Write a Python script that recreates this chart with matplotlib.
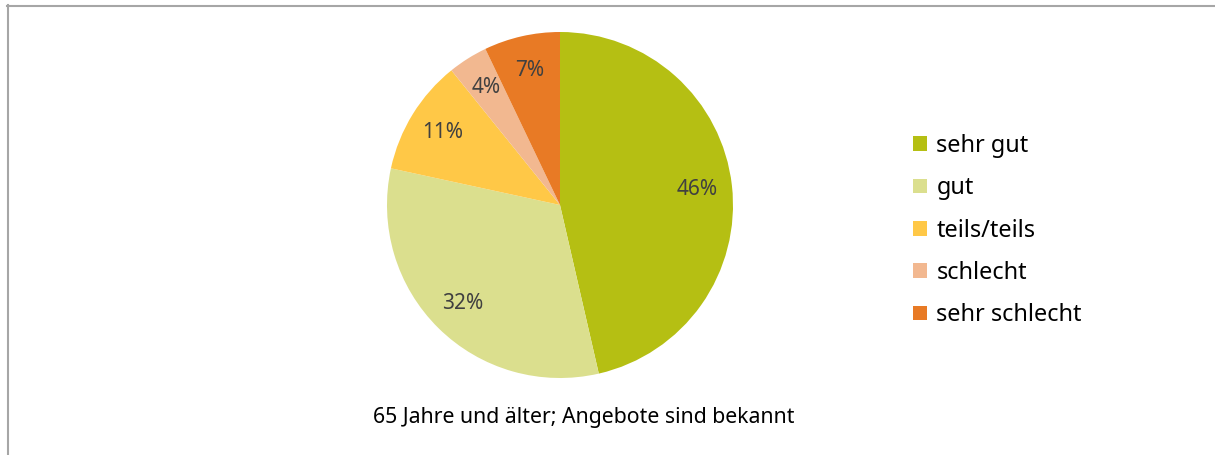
import matplotlib
matplotlib.use("Agg")
import matplotlib.pyplot as plt
from matplotlib.lines import Line2D
from matplotlib.patches import Patch

plt.rcParams['font.family'] = ['Noto Sans', 'DejaVu Sans']

categories = ["sehr gut", "gut", "teils/teils", "schlecht", "sehr schlecht"]
shares = [46.4, 32.0, 10.8, 3.7, 7.1]
colors = ["#B5BF13", "#DBDF8E", "#FFC847", "#F2B890", "#E87A25"]
title = "65 Jahre und älter; Angebote sind bekannt"

W, H = 1215, 455
fig = plt.figure(figsize=(W / 100, H / 100), dpi=100)

# pie centre (560, 205), radius 173 px
cx, cy, r = 560, 205, 173
ax = fig.add_axes([(cx - r) / W, (H - cy - r) / H, 2 * r / W, 2 * r / H])
wedges, texts, autotexts = ax.pie(
    shares, colors=colors, startangle=90, counterclock=False,
    autopct=lambda p: f"{p:.0f}%", pctdistance=0.8, radius=1.0,
    wedgeprops=dict(linewidth=0),
    textprops=dict(color="#404040", fontsize=15),
)
ax.set_xlim(-1, 1)
ax.set_ylim(-1, 1)
ax.set_aspect("equal")
ax.axis("off")

handles = [Patch(facecolor=c, edgecolor="none") for c in colors]
fig.legend(handles, categories, loc="upper left",
           bbox_to_anchor=(913 / W, 1 - 134 / H),
           frameon=False, fontsize=16.9, handlelength=0.6, handleheight=0.6,
           handletextpad=0.4, labelspacing=0.78, borderaxespad=0,
           borderpad=0, labelcolor="#000000")

fig.text(584 / W, 1 - 418 / H, title, ha="center", va="center",
         fontsize=15.3, color="#000000")

# grey frame lines (top and left)
fig.add_artist(Line2D([7 / W, 1], [1 - 5.5 / H, 1 - 5.5 / H],
                      color="#A6A6A6", linewidth=1.5, transform=fig.transFigure))
fig.add_artist(Line2D([7.5 / W, 7.5 / W], [0, 1 - 5 / H],
                      color="#A6A6A6", linewidth=1.5, transform=fig.transFigure))

fig.savefig("out.png", dpi=100)
